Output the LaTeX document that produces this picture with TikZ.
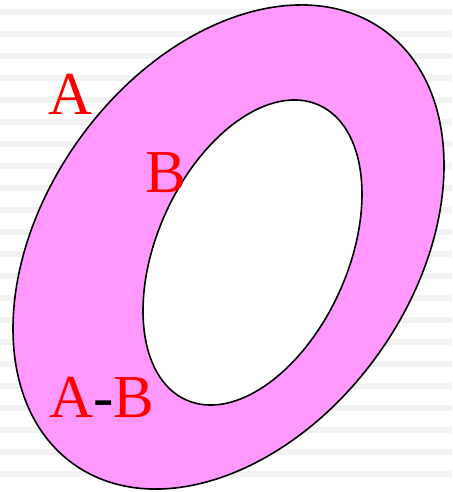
\documentclass[tikz,border=0pt]{standalone}
\usepackage{fontspec}
\setmainfont{Liberation Serif}
\definecolor{stripe}{HTML}{F2F2F2}
\definecolor{ringpink}{HTML}{FF99FF}
\definecolor{labelred}{HTML}{FF0000}
\begin{document}
\begin{tikzpicture}[x=1pt,y=1pt,
  ring/.style={draw=black,line width=1.6pt},
  lbl/.style={text=labelred,inner sep=0pt,anchor=base west,font=\fontsize{61}{61}\selectfont}]
\useasboundingbox (0,0) rectangle (452,492);
\foreach \k in {0,...,21} {
  \fill[stripe] (0,{492-9.5-22*\k}) rectangle (452,{492-15.3-22*\k});
}
\draw[ring,fill=ringpink] (228.5,245) ellipse [x radius=266.7, y radius=184.1, rotate=54.5];
\draw[ring,fill=white] (252.5,239.5) ellipse [x radius=161.7, y radius=95.4, rotate=65.7];
\node[lbl] (labA) at (48,{492-115}) {A};
\node[lbl] (labB) at (145,{492-193}) {B};
\node[lbl] (labAB) at (49,{492-418}) {A\textcolor{black}{-}B};
\end{tikzpicture}
\end{document}
